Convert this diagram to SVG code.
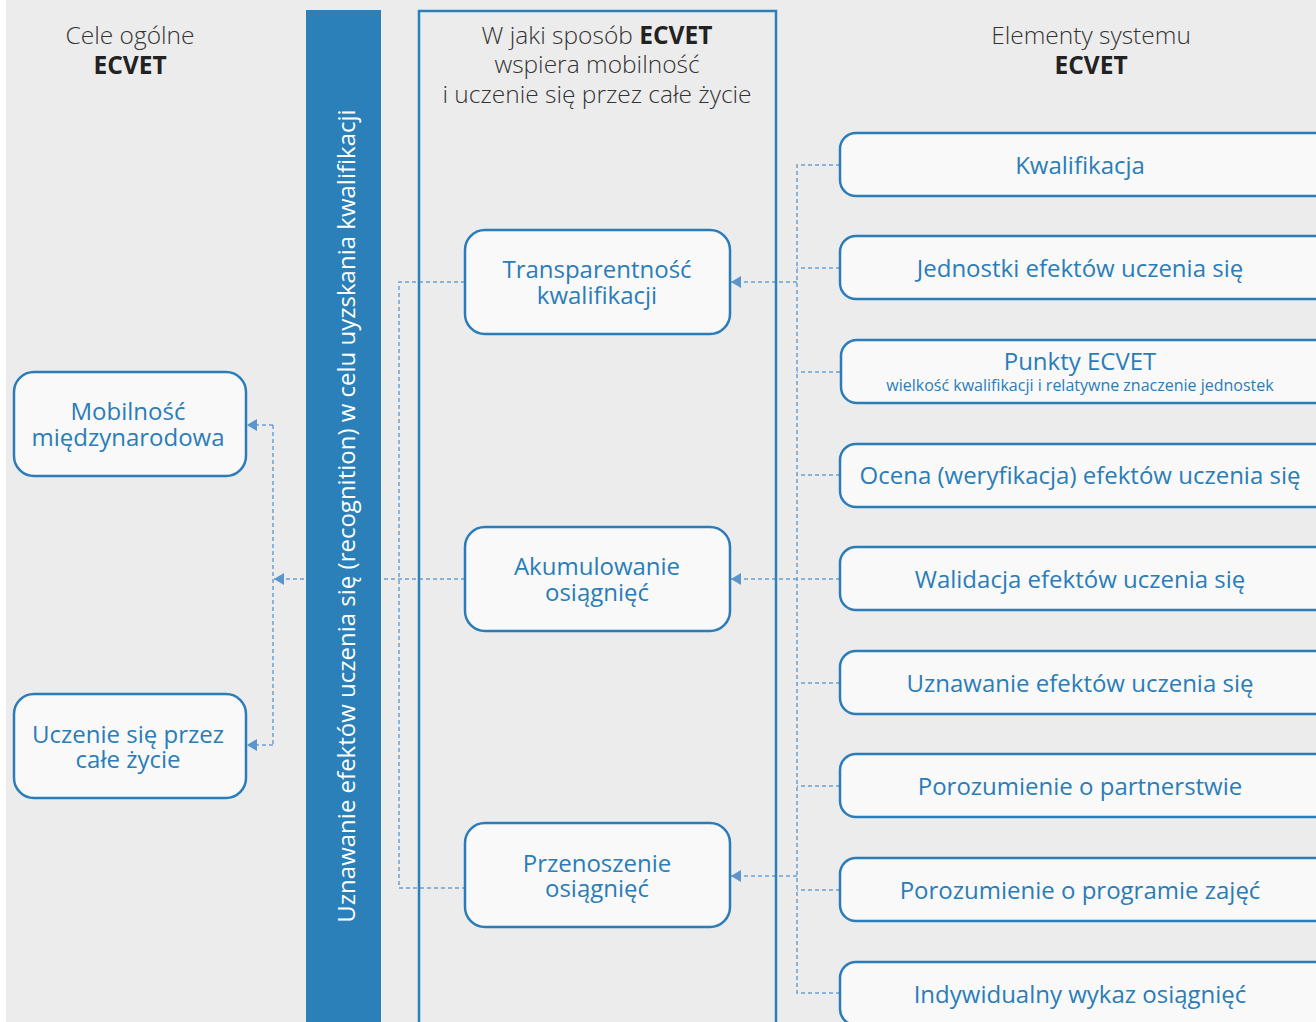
<svg xmlns="http://www.w3.org/2000/svg" width="1316" height="1022" viewBox="0 0 1316 1022">
<defs>
<style>
.bg{fill:#ececec}
.node rect{fill:#f9f9f9;stroke:#2a7db8;stroke-width:2.5}
.node text{fill:#2a7db8;font-family:"Open Sans","Noto Sans",sans-serif;font-size:24px;text-anchor:middle}
.node text.small{font-size:16px}
.title{fill:#333;font-family:"Open Sans","Noto Sans",sans-serif;font-size:24.5px;text-anchor:middle;font-weight:300}
.title .b{font-weight:700;fill:#222}
.conn path{fill:none;stroke:#6b9fd1;stroke-width:1.5;stroke-dasharray:4 3}
</style>
<marker id="arr" markerWidth="10" markerHeight="12" refX="10" refY="6" orient="auto" markerUnits="userSpaceOnUse">
<path d="M0,0 L10,6 L0,12 Z" fill="#5b95cc"/>
</marker>
</defs>
<rect x="0" y="0" width="1316" height="1022" fill="#ffffff"/>
<rect class="bg" x="6" y="0" width="1310" height="1022"/>

<g class="conn">
<path d="M840,165 H797 V993 H840"/>
<path d="M840,268 H797"/>
<path d="M840,372 H797"/>
<path d="M840,475 H797"/>
<path d="M840,579 H797"/>
<path d="M840,683 H797"/>
<path d="M840,786 H797"/>
<path d="M840,890 H797"/>
<path d="M797,282 H731" marker-end="url(#arr)"/>
<path d="M797,579 H731" marker-end="url(#arr)"/>
<path d="M797,876 H731" marker-end="url(#arr)"/>
<path d="M465,282 H399 V888 H465"/>
<path d="M465,579 H274" marker-end="url(#arr)"/>
<path d="M273,425 V745"/>
<path d="M273,425 H247" marker-end="url(#arr)"/>
<path d="M273,745 H247" marker-end="url(#arr)"/>
</g>

<g id="band">
<rect x="306" y="10" width="75" height="1012" fill="#2b80b9"/>
<text transform="translate(345 516) rotate(-90)" fill="#ffffff" font-family="'Open Sans','Noto Sans',sans-serif" font-size="24" text-anchor="middle" dominant-baseline="central">Uznawanie efektów uczenia się (recognition) w celu uyzskania kwalifikacji</text>
</g>
<rect x="419" y="11" width="357" height="1020" fill="none" stroke="#2b80b9" stroke-width="2.5"/>

<text class="title" x="130" y="44">Cele ogólne</text>
<text class="title" x="130" y="74"><tspan class="b">ECVET</tspan></text>
<text class="title" x="597" y="44">W jaki sposób <tspan class="b">ECVET</tspan></text>
<text class="title" x="597" y="73">wspiera mobilność</text>
<text class="title" x="597" y="103">i uczenie się przez całe życie</text>
<text class="title" x="1091" y="44">Elementy systemu</text>
<text class="title" x="1091" y="74"><tspan class="b">ECVET</tspan></text>

<g id="n-mobilnosc" class="node"><rect x="14" y="372" width="232" height="104" rx="20"/><text x="128" y="420">Mobilność</text><text x="128" y="446">międzynarodowa</text></g>
<g id="n-uczenie" class="node"><rect x="14" y="694" width="232" height="104" rx="20"/><text x="128" y="743">Uczenie się przez</text><text x="128" y="768">całe życie</text></g>
<g id="n-transparentnosc" class="node"><rect x="465" y="230" width="265" height="104" rx="20"/><text x="597" y="278">Transparentność</text><text x="597" y="304">kwalifikacji</text></g>
<g id="n-akumulowanie" class="node"><rect x="465" y="527" width="265" height="104" rx="20"/><text x="597" y="575">Akumulowanie</text><text x="597" y="601">osiągnięć</text></g>
<g id="n-przenoszenie" class="node"><rect x="465" y="823" width="265" height="104" rx="20"/><text x="597" y="872">Przenoszenie</text><text x="597" y="897">osiągnięć</text></g>

<g id="n-kwalifikacja" class="node"><rect x="840" y="133" width="490" height="63" rx="16"/><text x="1080" y="174">Kwalifikacja</text></g>
<g id="n-jednostki" class="node"><rect x="840" y="236" width="490" height="63" rx="16"/><text x="1080" y="277">Jednostki efektów uczenia się</text></g>
<g id="n-punkty" class="node"><rect x="841" y="340" width="490" height="63" rx="16"/><text x="1080" y="370">Punkty ECVET</text><text class="small" x="1080" y="391">wielkość kwalifikacji i relatywne znaczenie jednostek</text></g>
<g id="n-ocena" class="node"><rect x="840" y="444" width="490" height="63" rx="16"/><text x="1080" y="484">Ocena (weryfikacja) efektów uczenia się</text></g>
<g id="n-walidacja" class="node"><rect x="840" y="547" width="490" height="63" rx="16"/><text x="1080" y="588">Walidacja efektów uczenia się</text></g>
<g id="n-uznawanie" class="node"><rect x="840" y="651" width="490" height="63" rx="16"/><text x="1080" y="692">Uznawanie efektów uczenia się</text></g>
<g id="n-partnerstwo" class="node"><rect x="840" y="754" width="490" height="63" rx="16"/><text x="1080" y="795">Porozumienie o partnerstwie</text></g>
<g id="n-program" class="node"><rect x="840" y="858" width="490" height="63" rx="16"/><text x="1080" y="899">Porozumienie o programie zajęć</text></g>
<g id="n-wykaz" class="node"><rect x="840" y="962" width="490" height="63" rx="16"/><text x="1080" y="1003">Indywidualny wykaz osiągnięć</text></g>
</svg>
